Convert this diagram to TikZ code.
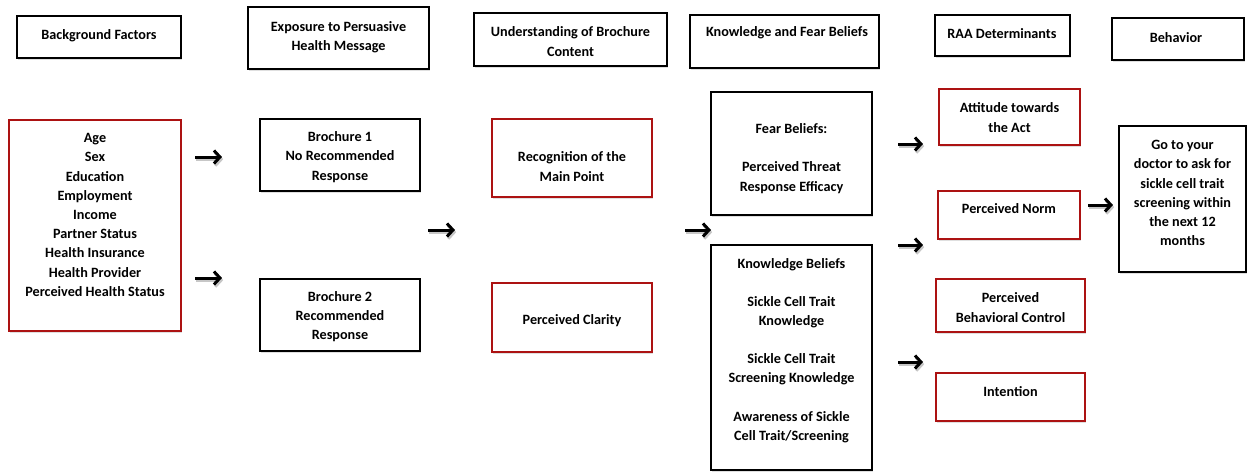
\documentclass[tikz,border=0pt]{standalone}
\usepackage{fontspec}
\setmainfont{Carlito}
\usetikzlibrary{arrows.meta,shadows}
\definecolor{boxred}{RGB}{172,18,18}
\begin{document}
\begin{tikzpicture}[x=1pt,y=-1pt,
  font=\bfseries\fontsize{14.2}{19.2}\selectfont,
  base/.style={rectangle,fill=white,inner sep=0pt,
    drop shadow={shadow xshift=1.2pt,shadow yshift=-1.5pt,opacity=0.25}},
  hbox/.style={base,draw=black,line width=1.5pt},
  bbox/.style={base,draw=black,line width=2.2pt},
  rbox/.style={base,draw=boxred,line width=2.5pt},
  txt/.style={align=center,inner sep=0pt},
  arr/.style={line width=3pt,-{Straight Barb[length=6pt,width=13pt]},
    preaction={draw=black!22,line width=3pt,transform canvas={shift={(1.2pt,-2.2pt)}}}}
]
\useasboundingbox (0,0) rectangle (1252,472);
% header boxes
\node[hbox,minimum width=164pt,minimum height=42pt] (hBF) at (99,37) {};
\node[txt] (thBF) at (99,36) {Background Factors};
\node[hbox,minimum width=181pt,minimum height=62pt] (hExp) at (338.5,38) {};
\node[txt] (thExp) at (338.5,37) {Exposure to Persuasive\\Health Message};
\node[hbox,minimum width=193pt,minimum height=53pt] (hUnd) at (570.5,39.5) {};
\node[txt] (thUnd) at (570.5,41.5) {Understanding of Brochure\\Content};
\node[hbox,minimum width=189pt,minimum height=53pt] (hKFB) at (784.5,41.5) {};
\node[txt] (thKFB) at (787,33) {Knowledge and Fear Beliefs};
\node[hbox,minimum width=135pt,minimum height=41pt] (hRAA) at (1002.5,35.5) {};
\node[txt] (thRAA) at (1002,34) {RAA Determinants};
\node[hbox,minimum width=132pt,minimum height=42pt] (hBeh) at (1178,39) {};
\node[txt] (thBeh) at (1176,38) {Behavior};
% main boxes
\node[rbox,minimum width=172pt,minimum height=211pt] (bg) at (95,225.5) {};
\node[txt] (tbg) at (95,215) {Age\\Sex\\Education\\Employment\\Income\\Partner Status\\Health Insurance\\Health Provider\\Perceived Health Status};
\node[bbox,minimum width=160pt,minimum height=72pt] (b1) at (340,155) {};
\node[txt] (tb1) at (340,157) {Brochure 1\\No Recommended\\Response};
\node[bbox,minimum width=160pt,minimum height=72pt] (b2) at (340,315) {};
\node[txt] (tb2) at (340,316.5) {Brochure 2\\Recommended\\Response};
\node[rbox,minimum width=160pt,minimum height=78pt] (rec) at (572,158) {};
\node[txt] (trec) at (572,166.5) {Recognition of the\\Main Point};
\node[rbox,minimum width=160pt,minimum height=69pt] (clar) at (572,317.5) {};
\node[txt] (tclar) at (572,321) {Perceived Clarity};
\node[bbox,minimum width=161pt,minimum height=123pt] (fear) at (791.5,153.5) {};
\node[txt] (tfear) at (791.5,158.5) {Fear Beliefs:\\[19pt]Perceived Threat\\Response Efficacy};
\node[bbox,minimum width=161pt,minimum height=225pt] (know) at (791.5,357.5) {};
\node[txt] (tknow) at (791.5,350.5) {Knowledge Beliefs\\[19pt]Sickle Cell Trait\\Knowledge\\[19pt]Sickle Cell Trait\\Screening Knowledge\\[19pt]Awareness of Sickle\\Cell Trait/Screening};
\node[rbox,minimum width=141pt,minimum height=56pt] (att) at (1009.5,117) {};
\node[txt] (tatt) at (1009.5,117.5) {Attitude towards\\the Act};
\node[rbox,minimum width=142pt,minimum height=48pt] (norm) at (1009,215) {};
\node[txt] (tnorm) at (1009,209) {Perceived Norm};
\node[rbox,minimum width=149pt,minimum height=53pt] (pbc) at (1010.5,305.5) {};
\node[txt] (tpbc) at (1010.5,307.5) {Perceived\\Behavioral Control};
\node[rbox,minimum width=149pt,minimum height=48pt] (int) at (1010.5,397) {};
\node[txt] (tint) at (1010.5,392) {Intention};
\node[bbox,minimum width=127pt,minimum height=146pt] (beh) at (1182.5,199) {};
\node[txt] (tbeh) at (1182.5,193) {Go to your\\doctor to ask for\\sickle cell trait\\screening within\\the next 12\\months};
% arrows
\coordinate (a1s) at (195,157); \coordinate (a1e) at (222,157);
\coordinate (a2s) at (195,278); \coordinate (a2e) at (222,278);
\coordinate (a3s) at (428,230); \coordinate (a3e) at (455,230);
\coordinate (a4s) at (685,230); \coordinate (a4e) at (711,230);
\coordinate (a5s) at (898,144); \coordinate (a5e) at (923,144);
\coordinate (a6s) at (898,245); \coordinate (a6e) at (923,245);
\coordinate (a7s) at (898,362); \coordinate (a7e) at (923,362);
\coordinate (a8s) at (1088,205); \coordinate (a8e) at (1113,205);
\foreach \i in {1,...,8} {\draw[arr] (a\i s) -- (a\i e);}
\end{tikzpicture}
\end{document}
